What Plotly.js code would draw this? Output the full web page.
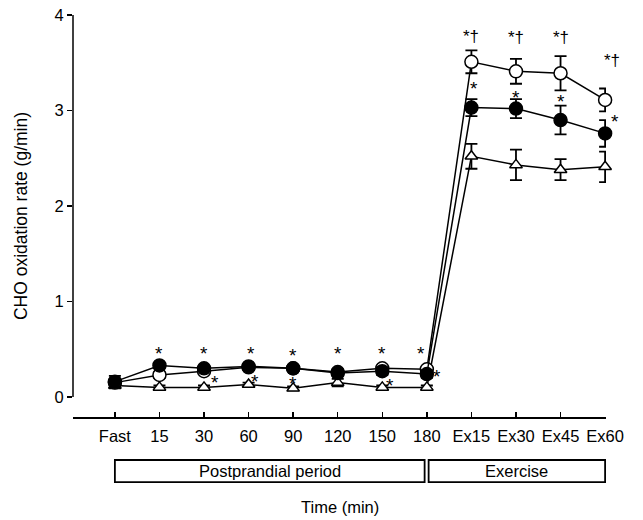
<!DOCTYPE html>
<html>
<head>
<meta charset="utf-8">
<script src="https://cdn.plot.ly/plotly-3.0.1.min.js"></script>
<style>html,body{margin:0;padding:0;background:#fff;}#chart{width:643px;height:520px;}</style>
</head>
<body>
<div id="chart"></div>
<script>
var categories = ["Fast","15","30","60","90","120","150","180","Ex15","Ex30","Ex45","Ex60"];
var openCircle   = [0.15,0.23,0.27,0.31,0.30,0.26,0.30,0.29,3.51,3.41,3.39,3.11];
var openErr      = [0.04,0.03,0.03,0.03,0.03,0.03,0.03,0.03,0.12,0.13,0.18,0.12];
var filledCircle = [0.16,0.33,0.30,0.32,0.30,0.25,0.27,0.24,3.03,3.02,2.90,2.76];
var filledErr    = [0.06,0.03,0.03,0.03,0.03,0.03,0.04,0.04,0.09,0.10,0.15,0.14];
var triangle     = [0.12,0.10,0.10,0.13,0.09,0.15,0.10,0.10,2.52,2.43,2.38,2.41];
var triangleErr  = [0.03,0.02,0.02,0.02,0.02,0.04,0.02,0.02,0.13,0.16,0.11,0.16];
var yTicks = [0,1,2,3,4];

// significance marks: [category, y, text, xshift]
var marks = [
  ["15",0.46,"*",0],["30",0.45,"*",0],["60",0.45,"*",2],["90",0.43,"*",0],
  ["120",0.45,"*",0],["150",0.45,"*",0],["180",0.45,"*",-6],
  ["30",0.15,"*",11],["60",0.16,"*",6],["90",0.14,"*",0],["150",0.12,"*",8],["180",0.21,"*",10],
  ["Ex15",3.78,"*†",0],["Ex30",3.76,"*†",0],["Ex45",3.76,"*†",0],["Ex60",3.52,"*†",7],
  ["Ex15",3.23,"*",3],["Ex30",3.14,"*",0],["Ex45",3.09,"*",0],["Ex60",2.88,"*",10]
];
var periods = [["Postprandial period",0,6.95],["Exercise",7.04,11]];

var font = "Liberation Sans, Arial, sans-serif";
function tr(y, err, sym, fill){
  return {x:categories.map(function(c,i){return i;}), y:y, type:"scatter", mode:"lines+markers", cliponaxis:false,
    line:{color:"#000", width:1.5},
    marker:{symbol:sym, size: sym==="triangle-up"?11:13, color:fill, line:{color:"#000", width:1.5}},
    error_y:{type:"data", array:err, visible:true, color:"#000", thickness:1.8, width:6},
    showlegend:false, hoverinfo:"skip"};
}
var data = [
  tr(triangle, triangleErr, "triangle-up", "#fff"),
  tr(openCircle, openErr, "circle", "#fff"),
  tr(filledCircle, filledErr, "circle", "#000")
];
var annotations = marks.map(function(m){
  return {x:categories.indexOf(m[0]), y:m[1], text:m[2], xref:"x", yref:"y", showarrow:false, xshift:m[3],
    font:{family:font, size:(m[2]==="*"?19:17), color:"#000"}};
});
var shapes = [{type:"line", xref:"paper", yref:"y", x0:0, x1:0, y0:0, y1:4, line:{color:"#000", width:1.5}}];
periods.forEach(function(p){
  shapes.push({type:"rect", xref:"x", yref:"paper", x0:p[1], x1:p[2], y0:-0.107, y1:-0.162,
    line:{color:"#000", width:1.8}, fillcolor:"rgba(0,0,0,0)"});
  annotations.push({x:(p[1]+p[2])/2, y:-0.1345, xref:"x", yref:"paper", text:p[0], showarrow:false,
    yanchor:"middle", font:{family:font, size:16.5, color:"#000"}});
});
annotations.push({x:0.5, y:-0.225, xref:"paper", yref:"paper", text:"Time (min)", showarrow:false,
  yanchor:"middle", font:{family:font, size:16.5, color:"#000"}});

var layout = {
  width:643, height:520,
  margin:{l:73, r:37, t:15, b:103},
  paper_bgcolor:"#fff", plot_bgcolor:"#fff",
  font:{family:font, size:16.5, color:"#000"},
  xaxis:{range:[-0.94, 11.02], showline:true, linecolor:"#000", linewidth:1.5,
    tickvals:categories.map(function(c,i){return i;}), ticktext:categories,
    ticks:"inside", ticklen:5, tickwidth:1.5, tickcolor:"#000", showgrid:false, zeroline:false,
    ticklabelstandoff:4, tickfont:{family:font, size:16.5}, fixedrange:true},
  yaxis:{range:[-0.21, 4], tickvals:yTicks, showline:false, ticks:"outside", ticklen:5, tickwidth:1.5,
    tickcolor:"#000", showgrid:false, zeroline:false, tickfont:{family:font, size:16.5},
    title:{text:"CHO oxidation rate (g/min)", font:{family:font, size:17.5}, standoff:22}},
  shapes:shapes, annotations:annotations
};
Plotly.newPlot("chart", data, layout, {displayModeBar:false, staticPlot:true});
</script>
</body>
</html>
